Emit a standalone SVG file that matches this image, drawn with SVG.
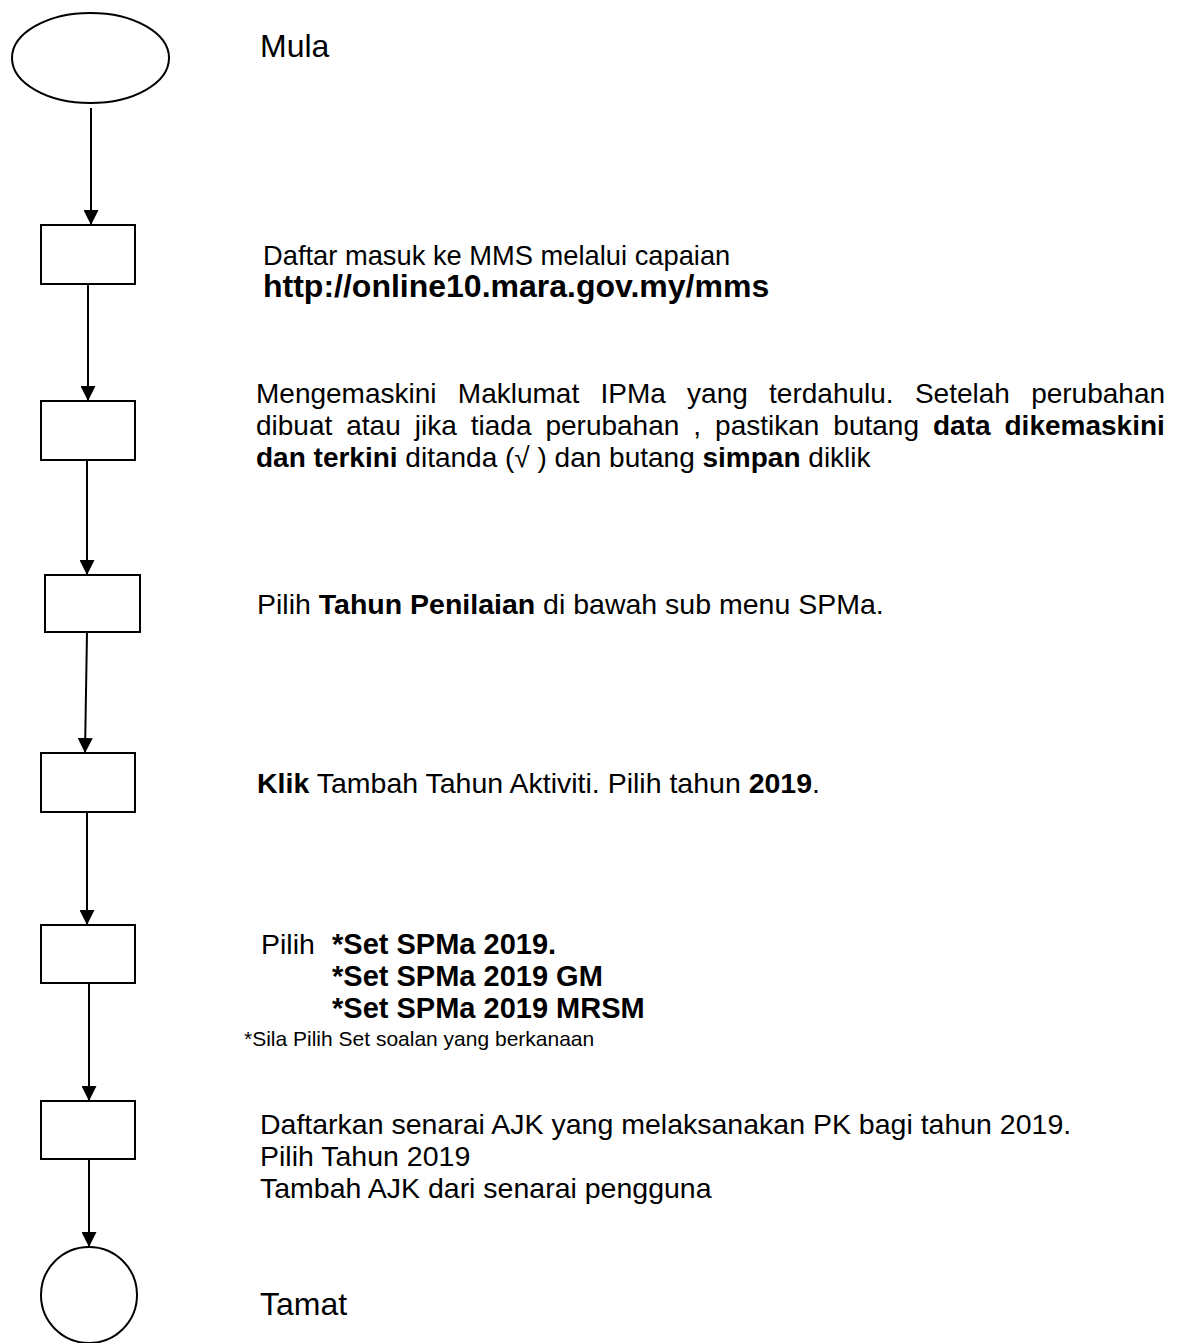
<svg xmlns="http://www.w3.org/2000/svg" width="1184" height="1343" viewBox="0 0 1184 1343">
<style>
.n{fill:#fff;stroke:#000;stroke-width:2}
.c{fill:none;stroke:#000;stroke-width:2;marker-end:url(#ah)}
text{font-family:"Liberation Sans",Arial,sans-serif;fill:#000;font-size:28.5px}
.b{font-weight:bold}
text.big{font-size:32px}
text.sm{font-size:21px}
text.f27{font-size:27.3px}
text.f28{font-size:28px}
text.f29{font-size:29px}
text.url{font-size:32px}
</style>
<defs>
<marker id="ah" markerUnits="userSpaceOnUse" markerWidth="15" markerHeight="15" refX="15" refY="7.5" orient="auto">
<path d="M0,0 L15,7.5 L0,15 z" fill="#000"/>
</marker>
</defs>
<rect width="1184" height="1343" fill="#fff"/>
<g id="connectors">
<line class="c" x1="91" y1="108" x2="91" y2="225"/>
<line class="c" x1="88" y1="284" x2="88" y2="401"/>
<line class="c" x1="87" y1="460" x2="87" y2="575"/>
<line class="c" x1="87" y1="632" x2="85" y2="753"/>
<line class="c" x1="87" y1="812" x2="87" y2="925"/>
<line class="c" x1="89" y1="983" x2="89" y2="1101"/>
<line class="c" x1="89" y1="1159" x2="89" y2="1247"/>
</g>
<g id="mula">
<ellipse class="n" cx="90.5" cy="58" rx="78.5" ry="45"/>
<text class="big" x="260" y="57">Mula</text>
</g>
<g id="step1">
<rect class="n" x="41" y="225" width="94" height="59"/>
<text class="f27" x="263" y="265">Daftar masuk ke MMS melalui capaian</text>
<text class="b url" x="263" y="297">http://online10.mara.gov.my/mms</text>
</g>
<g id="step2">
<rect class="n" x="41" y="401" width="94" height="59"/>
<text class="f28" x="256" y="403" word-spacing="13.5">Mengemaskini Maklumat IPMa yang terdahulu. Setelah perubahan</text>
<text class="f28" x="256" y="435" word-spacing="6.2">dibuat atau jika tiada perubahan , pastikan butang <tspan class="b">data dikemaskini</tspan></text>
<text class="f28" x="256" y="467"><tspan class="b">dan terkini</tspan> ditanda (√ ) dan butang <tspan class="b">simpan</tspan> diklik</text>
</g>
<g id="step3">
<rect class="n" x="45" y="575" width="95" height="57"/>
<text x="257" y="614">Pilih <tspan class="b">Tahun Penilaian</tspan> di bawah sub menu SPMa.</text>
</g>
<g id="step4">
<rect class="n" x="41" y="753" width="94" height="59"/>
<text x="257" y="793"><tspan class="b">Klik</tspan> Tambah Tahun Aktiviti. Pilih tahun <tspan class="b">2019</tspan>.</text>
</g>
<g id="step5">
<rect class="n" x="41" y="925" width="94" height="58"/>
<text x="261" y="954">Pilih</text>
<text class="b f29" x="332" y="954">*Set SPMa 2019.</text>
<text class="b f29" x="332" y="986">*Set SPMa 2019 GM</text>
<text class="b f29" x="332" y="1018">*Set SPMa 2019 MRSM</text>
<text class="sm" x="244" y="1046">*Sila Pilih Set soalan yang berkanaan</text>
</g>
<g id="step6">
<rect class="n" x="41" y="1101" width="94" height="58"/>
<text x="260" y="1134">Daftarkan senarai AJK yang melaksanakan PK bagi tahun 2019.</text>
<text x="260" y="1166">Pilih Tahun 2019</text>
<text x="260" y="1198">Tambah AJK dari senarai pengguna</text>
</g>
<g id="tamat">
<circle class="n" cx="89" cy="1295" r="48"/>
<text class="big" x="260" y="1315">Tamat</text>
</g>
</svg>
